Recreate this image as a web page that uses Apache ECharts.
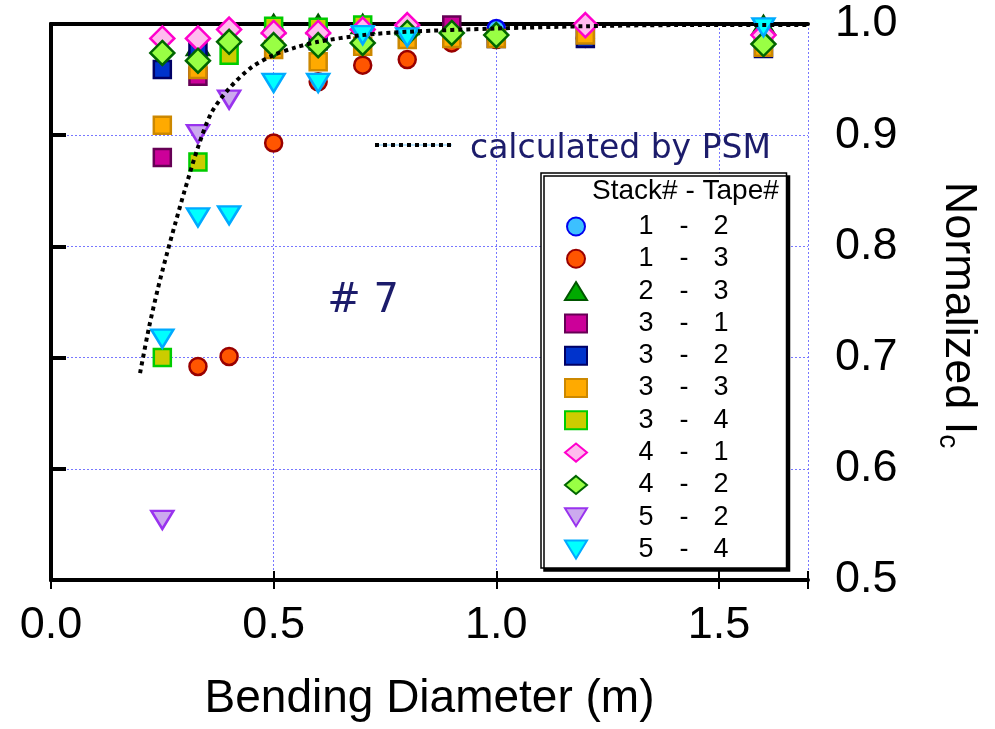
<!DOCTYPE html>
<html><head><meta charset="utf-8">
<script src="https://cdn.jsdelivr.net/npm/echarts@6/dist/echarts.min.js"></script>
<style>html,body{margin:0;padding:0;background:#fff}#c{width:995px;height:729px}</style>
</head><body><div id="c"></div>
<script>
// ---- data ----
const xTicks = [0.0, 0.5, 1.0, 1.5];
const yTicks = [0.5, 0.6, 0.7, 0.8, 0.9, 1.0];
const seriesNames = ['1 - 2','1 - 3','2 - 3','3 - 1','3 - 2','3 - 3','3 - 4','4 - 1','4 - 2','5 - 2','5 - 4'];
const s12 = [[1.0,0.996]];
const s13 = [[0.33,0.692],[0.4,0.701],[0.5,0.893],[0.6,0.948],[0.7,0.963],[0.8,0.968],[0.9,0.983],[1.0,0.986],[1.2,0.987]];
const s23 = [[0.33,0.980],[0.5,1.0],[0.6,1.0],[0.7,1.0],[0.8,0.999],[1.6,0.999]];
const s31 = [[0.25,0.880],[0.33,0.953],[0.9,0.999]];
const s32 = [[0.25,0.959],[0.33,0.975],[0.6,0.985],[1.0,0.987],[1.2,0.987],[1.6,0.978]];
const s33 = [[0.25,0.909],[0.33,0.959],[0.5,0.977],[0.6,0.966],[0.7,0.980],[0.8,0.986],[0.9,0.987],[1.0,0.987],[1.2,0.990],[1.6,0.979]];
const s34 = [[0.25,0.700],[0.33,0.876],[0.4,0.972],[0.5,0.998],[0.6,0.997],[0.7,0.999]];
const s41 = [[0.25,0.987],[0.33,0.987],[0.4,0.995],[0.5,0.992],[0.6,0.992],[0.7,0.995],[0.8,0.999],[1.2,0.999],[1.6,0.990]];
const s42 = [[0.25,0.974],[0.33,0.967],[0.4,0.984],[0.5,0.981],[0.6,0.981],[0.7,0.983],[0.8,0.992],[0.9,0.992],[1.0,0.990],[1.6,0.982]];
const s52 = [[0.25,0.554],[0.33,0.901],[0.4,0.932]];
const s54 = [[0.25,0.717],[0.33,0.826],[0.4,0.828],[0.5,0.947],[0.6,0.947],[0.7,0.990],[0.8,0.988],[1.6,0.997]];
const psmX = [0.20,0.22,0.24,0.26,0.28,0.30,0.33,0.36,0.40,0.45,0.50,0.55,0.60,0.70,0.80,1.00,1.20,1.40,1.70];
const psmY = [0.686,0.727,0.762,0.793,0.822,0.850,0.889,0.920,0.942,0.961,0.972,0.979,0.984,0.990,0.993,0.996,0.998,0.999,0.999];

// ---- styles ----
const downTri = 'path://M0,0 L22,0 L11,18 Z';
const styles = [
  {sym:'circle', size:17, fill:'#3cc0ff', border:'#0000ee'},
  {sym:'circle', size:17, fill:'#ff5500', border:'#990000'},
  {sym:'triangle', size:[22,18], fill:'#00aa00', border:'#005500'},
  {sym:'rect', size:17, fill:'#cc0099', border:'#660055'},
  {sym:'rect', size:17, fill:'#0033cc', border:'#000066'},
  {sym:'rect', size:17, fill:'#ffaa00', border:'#cc8800'},
  {sym:'rect', size:17, fill:'#cccc00', border:'#00cc00'},
  {sym:'diamond', size:24, fill:'#ffbbee', border:'#ff00cc'},
  {sym:'diamond', size:24, fill:'#99ff44', border:'#006600'},
  {sym:downTri, size:[22,18], fill:'#ccaaee', border:'#9933ee'},
  {sym:downTri, size:[22,18], fill:'#00ffff', border:'#00aaff'}
];
const seriesData = [s12,s13,s23,s31,s32,s33,s34,s41,s42,s52,s54];

const navy = '#1c1c6b';
const series = seriesNames.map((n,i)=>({
  name:n, type:'scatter', data:seriesData[i], symbol:styles[i].sym, symbolSize:styles[i].size,
  itemStyle:{color:styles[i].fill, borderColor:styles[i].border, borderWidth:2.5, opacity:1},
  xAxisIndex:0, yAxisIndex:0
}));
series.push({
  name:'PSM', type:'line', data:psmX.map((x,i)=>[x,psmY[i]]), showSymbol:false, smooth:0.3,
  lineStyle:{color:'#000', width:4, type:[4,4]}, z:5, xAxisIndex:0, yAxisIndex:0
});

const fmt1 = v => (Math.abs(v*2-Math.round(v*2))<1e-6) ? v.toFixed(1) : '';
const lf = {fontFamily:'Liberation Sans', fontSize:27, color:'#000'};
const chart = echarts.init(document.getElementById('c'), null, {renderer:'canvas'});
chart.setOption({
  animation:false,
  backgroundColor:'#fff',
  grid:{left:51, right:187, top:24, bottom:149, containLabel:false, outerBoundsMode:'none'},
  xAxis:[
    {type:'value', min:0, max:1.7, interval:0.5, position:'bottom',
     name:'Bending Diameter (m)', nameLocation:'middle', nameGap:96,
     nameTextStyle:{fontFamily:'Liberation Sans', fontSize:46, color:'#000'},
     axisLine:{lineStyle:{color:'#000', width:4}},
     axisTick:{show:true, length:9, lineStyle:{color:'#000', width:2}},
     axisLabel:{fontFamily:'Liberation Sans', fontSize:45, color:'#000', margin:23, formatter:fmt1},
     splitLine:{show:true, lineStyle:{color:'#7777ff', width:1, type:[2,2]}}},
    {type:'value', min:0, max:1.7, interval:0.5, position:'bottom', gridIndex:0,
     axisLine:{show:false}, axisTick:{show:true, inside:true, length:9, lineStyle:{color:'#000', width:2}},
     axisLabel:{show:false}, splitLine:{show:false}},
    {type:'value', min:0, max:1.7, position:'top', gridIndex:0,
     axisLine:{show:true, lineStyle:{color:'#000', width:4}}, axisTick:{show:false},
     axisLabel:{show:false}, splitLine:{show:false}}
  ],
  yAxis:[
    {type:'value', min:0.5, max:1.0, interval:0.1, position:'right',
     name:'Normalized I{s|c}', nameLocation:'middle', nameGap:128, nameRotate:-90,
     nameTextStyle:{fontFamily:'Liberation Sans', fontSize:45, color:'#000', padding:[0,0,0,26],
       rich:{s:{fontFamily:'Liberation Sans', fontSize:28, color:'#000', padding:[0,0,-22,0]}}},
     axisLine:{lineStyle:{color:'#000', width:4}},
     axisTick:{show:true, length:15, lineStyle:{color:'#000', width:4}},
     axisLabel:{fontFamily:'Liberation Sans', fontSize:45, color:'#000', margin:27, formatter:v=>v.toFixed(1)},
     splitLine:{show:true, lineStyle:{color:'#7777ff', width:1, type:[2,2]}}},
    {type:'value', min:0.5, max:1.0, position:'left',
     axisLine:{show:true, onZero:false, lineStyle:{color:'#000', width:4}}, axisTick:{show:false},
     axisLabel:{show:false}, splitLine:{show:false}}
  ],
  legend:{
    data:seriesNames, orient:'vertical', left:541, top:173,
    padding:[40, 58, 5, 23],
    itemWidth:22, itemHeight:18, itemGap:5.3,
    backgroundColor:'#fff', borderColor:'#000', borderWidth:1.5,
    shadowColor:'#000', shadowOffsetX:3, shadowOffsetY:3, shadowBlur:0,
    textStyle:Object.assign({}, lf, {
      rich:{p:Object.assign({width:39, align:'center'}, lf),
            a:Object.assign({width:30, align:'center'}, lf),
            b:Object.assign({width:46, align:'center'}, lf),
            c:Object.assign({width:28, align:'center'}, lf)}}),
    formatter: n => { const p = n.split(' - '); return '{p|\u00a0}{a|'+p[0]+'}{b|-}{c|'+p[1]+'}'; },
    selectedMode:false
  },
  graphic:[
    {type:'text', z:100, left:592, top:177, style:{text:'Stack# - Tape#', font:'28px "Liberation Sans"', fill:'#000'}},
    {type:'text', z:100, x:363, y:302, style:{text:'# 7', font:'40px "DejaVu Sans"', fill:navy, textAlign:'center', textVerticalAlign:'middle'}},
    {type:'text', z:100, x:470, y:149, style:{text:'calculated by PSM', font:'33px "DejaVu Sans"', fill:navy, textAlign:'left', textVerticalAlign:'middle'}},
    {type:'line', z:100, shape:{x1:375, y1:145, x2:452, y2:145}, style:{stroke:'#77ccff', lineWidth:1}},
    {type:'line', z:101, shape:{x1:375, y1:145, x2:452, y2:145}, style:{stroke:'#000', lineWidth:4, lineDash:[4,4]}}
  ],
  series:series
});
</script></body></html>
